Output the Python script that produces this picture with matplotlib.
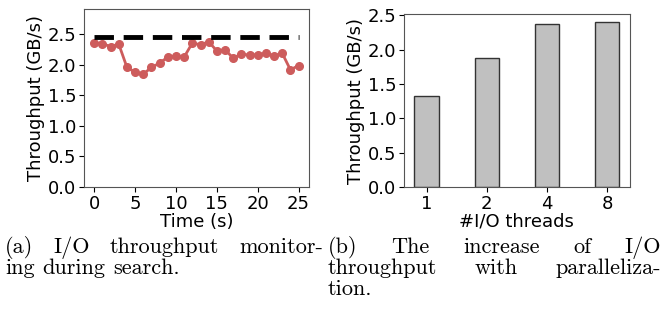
import matplotlib
matplotlib.use('Agg')
import matplotlib.pyplot as plt

# Throughput over time (left panel)
time_s = list(range(26))
throughput = [2.36, 2.35, 2.30, 2.34, 1.96, 1.88, 1.85, 1.96, 2.03, 2.13,
              2.14, 2.13, 2.36, 2.33, 2.38, 2.23, 2.25, 2.11, 2.18, 2.16,
              2.17, 2.19, 2.15, 2.19, 1.92, 1.99]
peak = 2.45

# Throughput vs. number of I/O threads (right panel)
threads = ['1', '2', '4', '8']
thread_tp = [1.32, 1.875, 2.375, 2.40]

caption_a = ["(a) I/O throughput monitor-", "ing during search."]
caption_b = ["(b) The increase of I/O", "throughput with paralleliza-", "tion."]

fs = 13
fig = plt.figure(figsize=(6.67, 3.25), dpi=100)

# left: monitoring
ax1 = fig.add_axes([0.126, 0.425, 0.337, 0.547])
ax1.plot(time_s, throughput, color='#cd5c5c', marker='o', markersize=5.5, linewidth=2)
ax1.plot([time_s[0], time_s[-1]], [peak, peak], color='black', linestyle=(0, (4, 2)), linewidth=3.5)
ax1.set_ylim(0, peak * 1.19)
ax1.set_xticks([0, 5, 10, 15, 20, 25])
ax1.set_yticks([0.0, 0.5, 1.0, 1.5, 2.0, 2.5])
ax1.set_xlabel('Time (s)', fontsize=fs, labelpad=0)
ax1.set_ylabel('Throughput (GB/s)', fontsize=fs, labelpad=2)
ax1.tick_params(labelsize=fs, pad=2)

# right: parallelization
ax2 = fig.add_axes([0.606, 0.424, 0.338, 0.533])
ax2.bar(range(len(threads)), thread_tp, width=0.4, color='#c0c0c0', edgecolor='#333333', linewidth=1)
ax2.set_xticks(range(len(threads)))
ax2.set_xticklabels(threads)
ax2.set_ylim(0, max(thread_tp) * 1.05)
ax2.set_yticks([0.0, 0.5, 1.0, 1.5, 2.0, 2.5])
ax2.set_xlabel('#I/O threads', fontsize=fs, labelpad=0)
ax2.set_ylabel('Throughput (GB/s)', fontsize=fs, labelpad=2)
ax2.tick_params(labelsize=fs, pad=2)

for ax in (ax1, ax2):
    for s in ax.spines.values():
        s.set_color('#555555')

# captions, justified like the LaTeX subcaptions
W, H = 667, 325
cap_fs = 16
renderer = fig.canvas.get_renderer()


def put_line(text, x0, x1, y, justify=True):
    words = text.split(' ')
    arts = [fig.text(x0 / W, 1 - y / H, w, fontsize=cap_fs, family='cmr10', va='baseline') for w in words]
    widths = [a.get_window_extent(renderer).width for a in arts]
    if justify and len(words) > 1:
        gap = (x1 - x0 - sum(widths)) / (len(words) - 1)
    else:
        gap = 0.35 * cap_fs * 100 / 72
    x = x0
    for a, w in zip(arts, widths):
        a.set_x(x / W)
        x += w + gap


put_line(caption_a[0], 5, 323, 253)
put_line(caption_a[1], 5, 323, 274, justify=False)
put_line(caption_b[0], 328, 661, 253)
put_line(caption_b[1], 328, 661, 274)
put_line(caption_b[2], 328, 661, 295, justify=False)

fig.savefig('out.png', dpi=100)
